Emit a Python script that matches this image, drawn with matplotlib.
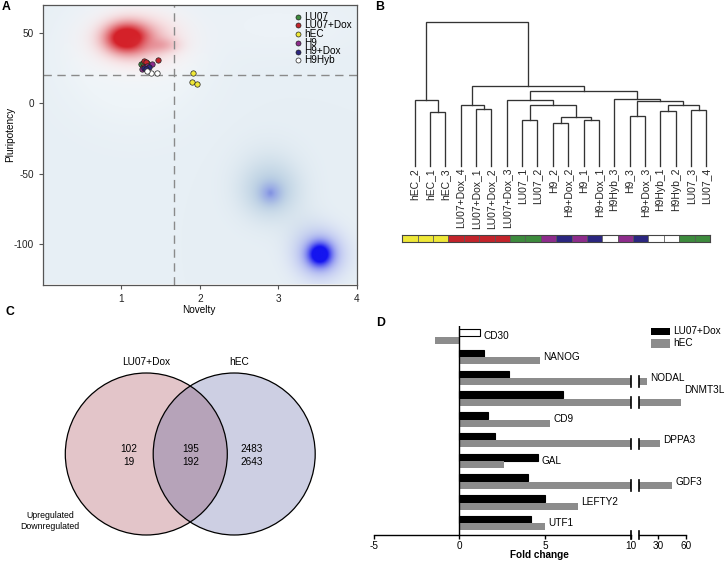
import numpy as np
import matplotlib
matplotlib.use("Agg")
import matplotlib.pyplot as plt
from matplotlib.colors import to_rgb
from matplotlib.lines import Line2D
from matplotlib.patches import Circle, Rectangle

plt.rcParams['font.family'] = ['Liberation Sans', 'DejaVu Sans']
plt.rcParams['axes.unicode_minus'] = False

W, H = 726, 561

# ---------------- A: novelty / pluripotency scores
groups = ["LU07", "LU07+Dox", "hEC", "H9", "H9+Dox", "H9Hyb"]
group_colors = {"LU07": "#3d8b3d", "LU07+Dox": "#c3242b", "hEC": "#efe838",
                "H9": "#8e2c8c", "H9+Dox": "#2b2680", "H9Hyb": "#ffffff"}
novelty = {"LU07": [1.25, 1.33, 1.30, 1.28],
           "LU07+Dox": [1.29, 1.47, 1.31, 1.27],
           "hEC": [1.91, 1.90, 1.97],
           "H9": [1.39, 1.26, 1.33],
           "H9+Dox": [1.29, 1.35, 1.32],
           "H9Hyb": [1.38, 1.45, 1.33]}
pluripotency = {"LU07": [27.8, 28.5, 26.5, 29.0],
                "LU07+Dox": [30.4, 30.7, 29.6, 26.0],
                "hEC": [21.4, 15.4, 13.6],
                "H9": [27.8, 24.3, 26.8],
                "H9+Dox": [25.0, 25.7, 24.2],
                "H9Hyb": [21.9, 21.9, 23.0]}
novelty_cut, pluri_cut = 1.67, 20

# reference density (background), gaussian bumps
bg_base = "#e7eff5"
blob_x = [1.15, 3.0, 1.2, 1.2, 1.07, 1.48,
          2.88, 3.3, 2.9, 2.9, 2.9, 3.53, 3.53]
blob_y = [30, 55, 44, 45, 46, 41,
          -57, -90, -63, -64.3, -64.3, -108, -108]
blob_sx = [0.6, 0.7, 0.4, 0.33, 0.17, 0.15,
           0.3, 0.2, 0.22, 0.09, 0.025, 0.2, 0.09]
blob_sy = [31, 15, 15, 11, 6.5, 3.5,
           18, 12, 12, 5, 1.5, 11, 5]
blob_amp = [1.8, 1.2, 2.0, 1.1, 1.6, 0.55,
            1.0, 0.6, 0.9, 1.1, 0.8, 0.8, 1.8]
blob_col = ["#eef4f8", "#ecf2f7", "#fbfcfd", "#efb6bb", "#d42129", "#e27a83",
            "#d3e1eb", "#d6e3ec", "#b2cadf", "#95a6e6", "#7e8fe0", "#7d86ee", "#1414f0"]

# ---------------- B: hierarchical clustering
leaf_names = ["hEC_2", "hEC_1", "hEC_3", "LU07+Dox_4", "LU07+Dox_1", "LU07+Dox_2",
              "LU07+Dox_3", "LU07_1", "LU07_2", "H9_2", "H9+Dox_2", "H9_1", "H9+Dox_1",
              "H9Hyb_3", "H9_3", "H9+Dox_3", "H9Hyb_1", "H9Hyb_2", "LU07_3", "LU07_4"]
# (child a, child b, height) ; ids >= 20 refer to earlier merges
merges = [(1, 2, 37.7), (0, 20, 45.8), (4, 5, 39.3), (3, 22, 42.3), (7, 8, 31.9),
          (9, 10, 30.0), (11, 12, 31.9), (25, 26, 34.2), (24, 27, 42.1), (6, 28, 45.8),
          (14, 15, 34.7), (16, 17, 38.4), (18, 19, 38.8), (31, 32, 42.3), (30, 33, 45.3),
          (13, 34, 46.3), (29, 35, 52.4), (23, 36, 55.6), (21, 37, 100.0)]

# ---------------- C: differentially expressed genes
venn_sets = ["LU07+Dox", "hEC"]
venn_up = [102, 195, 2483]
venn_down = [19, 192, 2643]

# ---------------- D: qPCR fold change
genes = ["CD30", "NANOG", "NODAL", "DNMT3L", "CD9", "DPPA3", "GAL", "GDF3", "LEFTY2", "UTF1"]
fc_lu07dox = np.array([1.21, 1.44, 2.88, 6.08, 1.70, 2.10, 4.62, 4.00, 5.02, 4.16])
fc_hec = np.array([-1.40, 4.73, 18, 55, 5.29, 32, 2.59, 45, 6.95, 5.02])
brk = 10

fig = plt.figure(figsize=(W / 100, H / 100), dpi=100)


def px_axes(x0, y0, x1, y1):
    return fig.add_axes([x0 / W, 1 - y1 / H, (x1 - x0) / W, (y1 - y0) / H])


def px_text(x, y, s, **kw):
    kw.setdefault('fontsize', 7.2)
    return fig.text(x / W, 1 - y / H, s, **kw)


# ===== A
axA = px_axes(43, 5, 356.5, 284.5)
gx = np.linspace(0, 4, 500)
gy = np.linspace(-129, 70, 500)
X, Y = np.meshgrid(gx, gy)
img = np.ones(X.shape + (3,)) * np.array(to_rgb(bg_base))
for cx, cy, sx, sy, amp, col in zip(blob_x, blob_y, blob_sx, blob_sy, blob_amp, blob_col):
    a = np.clip(amp * np.exp(-0.5 * ((X - cx) / sx) ** 2 - 0.5 * ((Y - cy) / sy) ** 2), 0, 1)[..., None]
    img = img * (1 - a) + np.array(to_rgb(col)) * a
axA.imshow(img, extent=(0, 4, -129, 70), origin='lower', aspect='auto', interpolation='bilinear')
axA.axvline(novelty_cut, color='#8a8a8a', lw=1, ls=(0, (6, 4)))
axA.axhline(pluri_cut, color='#8a8a8a', lw=1, ls=(0, (6, 4)))
for g in groups:
    axA.scatter(novelty[g], pluripotency[g], s=15, c=group_colors[g],
                edgecolors='#222222', linewidths=0.5, zorder=3)
axA.set_xlim(0, 4)
axA.set_ylim(-129, 70)
axA.set_xticks([1, 2, 3, 4])
axA.set_yticks([50, 0, -50, -100])
axA.tick_params(length=3, width=0.8, color='#555555', labelsize=7.2, labelcolor='#222222', pad=3.5)
for s in axA.spines.values():
    s.set_color('#555555')
    s.set_linewidth(0.9)
px_text(199.3, 310, "Novelty", ha='center', va='center')
px_text(10, 134, "Pluripotency", ha='center', va='center', rotation=90)
for i, g in enumerate(groups):
    yy = 16.7 + 8.7 * i
    fig.add_artist(Line2D([298.3 / W], [1 - yy / H], transform=fig.transFigure, marker='o', ms=3.6,
                          mfc=group_colors[g], mec='#222222', mew=0.5, ls='none'))
    px_text(304.5, yy, g, ha='left', va='center')

# ===== B
axB = px_axes(407, 22.3, 714, 165.7)
axB.set_xlim(-0.5, len(leaf_names) - 0.5)
axB.set_ylim(0, 100)
axB.axis('off')
n = len(leaf_names)
xpos = {i: float(i) for i in range(n)}
ypos = {i: 0.0 for i in range(n)}
for k, (a, b, h) in enumerate(merges):
    axB.plot([xpos[a], xpos[a], xpos[b], xpos[b]], [ypos[a], h, h, ypos[b]],
             color='#333333', lw=0.95, clip_on=False, solid_joinstyle='miter')
    xpos[n + k] = (xpos[a] + xpos[b]) / 2
    ypos[n + k] = h
for i, name in enumerate(leaf_names):
    axB.text(i, -1.6, name, rotation=90, ha='center', va='top', fontsize=7.5, color='#222222')

axS = px_axes(402.3, 235, 710, 241.7)
leaf_groups = [nm.rsplit('_', 1)[0] for nm in leaf_names]
axS.bar(range(n), 1, width=1, color=[group_colors[g] for g in leaf_groups],
        edgecolor='#555555', linewidth=0.5)
axS.set_xlim(-0.5, n - 0.5)
axS.set_ylim(0, 1)
axS.set_xticks([])
axS.set_yticks([])
for s in axS.spines.values():
    s.set_color('#444444')
    s.set_linewidth(0.8)

# ===== C
axC = px_axes(0, 330, 363, 561)
axC.set_xlim(0, 363)
axC.set_ylim(561, 330)
axC.axis('off')
left_c = Circle((146.3, 454), 81, fc='#e3c5c9', ec='none')
right_c = Circle((234.2, 454), 81, fc='#cdcfe3', ec='none')
axC.add_patch(left_c)
axC.add_patch(right_c)
both = Circle((146.3, 454), 81, fc='#b6a3b9', ec='none')
axC.add_patch(both)
both.set_clip_path(right_c)
for c in (left_c, right_c):
    axC.add_patch(Circle(c.center, c.radius, fill=False, ec='black', lw=0.9))
axC.text(145.7, 361.7, venn_sets[0], ha='center', va='center', fontsize=7.3)
axC.text(239, 361.7, venn_sets[1], ha='center', va='center', fontsize=7.3)
for xc, up, dn in zip([129, 190.3, 251.7], venn_up, venn_down):
    axC.text(xc, 449.3, str(up), ha='center', va='center', fontsize=7.2)
    axC.text(xc, 461.7, str(dn), ha='center', va='center', fontsize=7.2)
axC.text(50, 515, "Upregulated", ha='center', va='center', fontsize=6.3)
axC.text(50, 526.7, "Downregulated", ha='center', va='center', fontsize=6.3)

# ===== D (broken x axis)
axL = px_axes(373.7, 326, 630.5, 535)
axR = px_axes(639.3, 326, 686, 535)
pos = np.arange(len(genes))
yb, yg, bh = pos - 0.18, pos + 0.18, 0.34
black_fc = ['white' if g == 'CD30' else 'black' for g in genes]
axL.barh(yb, np.minimum(fc_lu07dox, brk), height=bh, color=black_fc, edgecolor='black', lw=0.8)
axL.barh(yg, np.minimum(fc_hec, brk), height=bh, color='#8c8c8c', lw=0)
big = fc_hec > brk
axR.barh(yg[big], fc_hec[big] - brk, left=brk, height=bh, color='#8c8c8c', lw=0)
for yy in yg[big]:
    for ax in (axL, axR):
        ax.plot([brk, brk], [yy - 0.25, yy + 0.25], color='black', lw=1.2, clip_on=False)
for ax in (axL, axR):
    ax.set_ylim(len(genes) - 0.43, -0.5)
    for side in ('top', 'right', 'left'):
        ax.spines[side].set_visible(False)
    ax.spines['bottom'].set_linewidth(1)
    ax.set_yticks([])
    ax.tick_params(axis='x', length=3, width=1, labelsize=7.2, pad=1.2)
    ax.plot([brk, brk], [-0.02, 0.02], transform=ax.get_xaxis_transform(), color='black',
            lw=1.2, clip_on=False)
axL.set_xlim(-5, brk)
axL.set_xticks([-5, 0, 5, 10])
axL.axvline(0, color='black', lw=1)
axR.set_xlim(brk, 60)
axR.set_xticks([30, 60])

label_nudge = {"DNMT3L": -0.43}
for i, g in enumerate(genes):
    right = max(fc_lu07dox[i], fc_hec[i], 0)
    ax = axR if right > brk else axL
    ax.annotate(g, (right, i + label_nudge.get(g, 0)), xytext=(2.3, 0), textcoords='offset points',
                ha='left', va='center', fontsize=7.2, annotation_clip=False)

fig.add_artist(Rectangle((651.3 / W, 1 - 335.3 / H), 19 / W, 7.5 / H, transform=fig.transFigure,
                         fc='black', ec='none'))
fig.add_artist(Rectangle((651.3 / W, 1 - 347.5 / H), 19 / W, 8.5 / H, transform=fig.transFigure,
                         fc='#8c8c8c', ec='none'))
px_text(673, 331.5, "LU07+Dox", ha='left', va='center')
px_text(673, 343.3, "hEC", ha='left', va='center')
px_text(539.7, 555, "Fold change", ha='center', va='center', fontweight='bold')

# panel letters
for lx, ly, lt in [(6.3, 7.3, "A"), (379.2, 7.5, "B"), (9.5, 311.7, "C"), (380.2, 322.5, "D")]:
    px_text(lx, ly, lt, ha='center', va='center', fontweight='bold', fontsize=8.8)

fig.savefig('out.png', dpi=100)
